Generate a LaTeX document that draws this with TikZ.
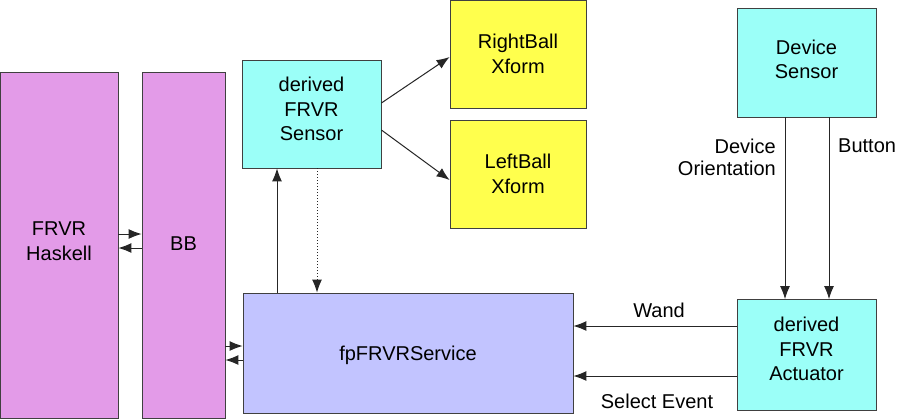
\documentclass[tikz,border=0pt]{standalone}
\usepackage{fontspec}
\setmainfont{Liberation Sans}
\usetikzlibrary{arrows.meta}
\begin{document}
\begin{tikzpicture}[x=1pt,y=-1pt,
  box/.style={draw=black!75,line width=0.8pt,inner sep=0pt},
  txt/.style={align=center,font=\fontsize{20}{24.5}\selectfont,inner sep=0pt},
  conn/.style={draw=black!85,line width=1pt,-{Latex[length=13pt,width=10pt]}},
  lbl/.style={font=\fontsize{20}{22}\selectfont,inner sep=0pt}]
\useasboundingbox (0,0) rectangle (900,420);
\fill[white] (0,0) rectangle (900,420);
\definecolor{mag}{HTML}{E39BE8}
\definecolor{cyn}{HTML}{9BFFF8}
\definecolor{yel}{HTML}{FFFF4D}
\definecolor{lav}{HTML}{C2C4FF}
% boxes
\node[box,fill=mag,minimum width=118,minimum height=346,label={[txt,yshift=4pt]center:FRVR\\Haskell}] (hask) at (59,245) {};
\node[box,fill=mag,minimum width=83,minimum height=346,label={[txt,yshift=1pt]center:BB}] (bb) at (183.5,245) {};
\node[box,fill=cyn,minimum width=139,minimum height=108,label={[txt,yshift=5pt]center:derived\\FRVR\\Sensor}] (sens) at (311.5,114) {};
\node[box,fill=yel,minimum width=136,minimum height=108,label={[txt]center:RightBall\\Xform}] (rb) at (518,54) {};
\node[box,fill=yel,minimum width=136,minimum height=108,label={[txt]center:LeftBall\\Xform}] (lb) at (518,174) {};
\node[box,fill=cyn,minimum width=139,minimum height=109,label={[txt,yshift=3pt]center:Device\\Sensor}] (dev) at (806.5,62.5) {};
\node[box,fill=cyn,minimum width=139,minimum height=111,label={[txt,yshift=6pt]center:derived\\FRVR\\Actuator}] (act) at (806.5,355) {};
\node[box,fill=lav,minimum width=330,minimum height=120,label={[txt,yshift=-2pt]center:fpFRVRService}] (fp) at (408,353) {};
% connectors
\draw[conn] (hask.east |- 0,234) -- (bb.west |- 0,234);
\draw[conn] (bb.west |- 0,248) -- (hask.east |- 0,248);
\draw[conn] (bb.east |- 0,346) -- (fp.west |- 0,346);
\draw[conn] (fp.west |- 0,360) -- (bb.east |- 0,360);
\draw[conn] (fp.north -| 277,0) -- (sens.south -| 277,0);
\draw[conn,dotted] (sens.south -| 317,0) -- (fp.north -| 317,0);
\draw[conn] (sens.east |- 0,103) -- (rb.west |- 0,57);
\draw[conn] (sens.east |- 0,130) -- (lb.west |- 0,180);
\draw[conn] (dev.south -| 785,0) -- (act.north -| 785,0);
\draw[conn] (dev.south -| 829,0) -- (act.north -| 829,0);
\draw[conn] (act.west |- 0,326) -- (fp.east |- 0,326);
\draw[conn] (act.west |- 0,376) -- (fp.east |- 0,376);
% labels
\node[lbl] (wand) at (659,310) {Wand};
\node[lbl] (sel) at (657,401) {Select Event};
\node[lbl,align=right,anchor=east] (dor) at (776,157) {Device\\Orientation};
\node[lbl,anchor=west] (btn) at (838,146) {Button};
\end{tikzpicture}
\end{document}
